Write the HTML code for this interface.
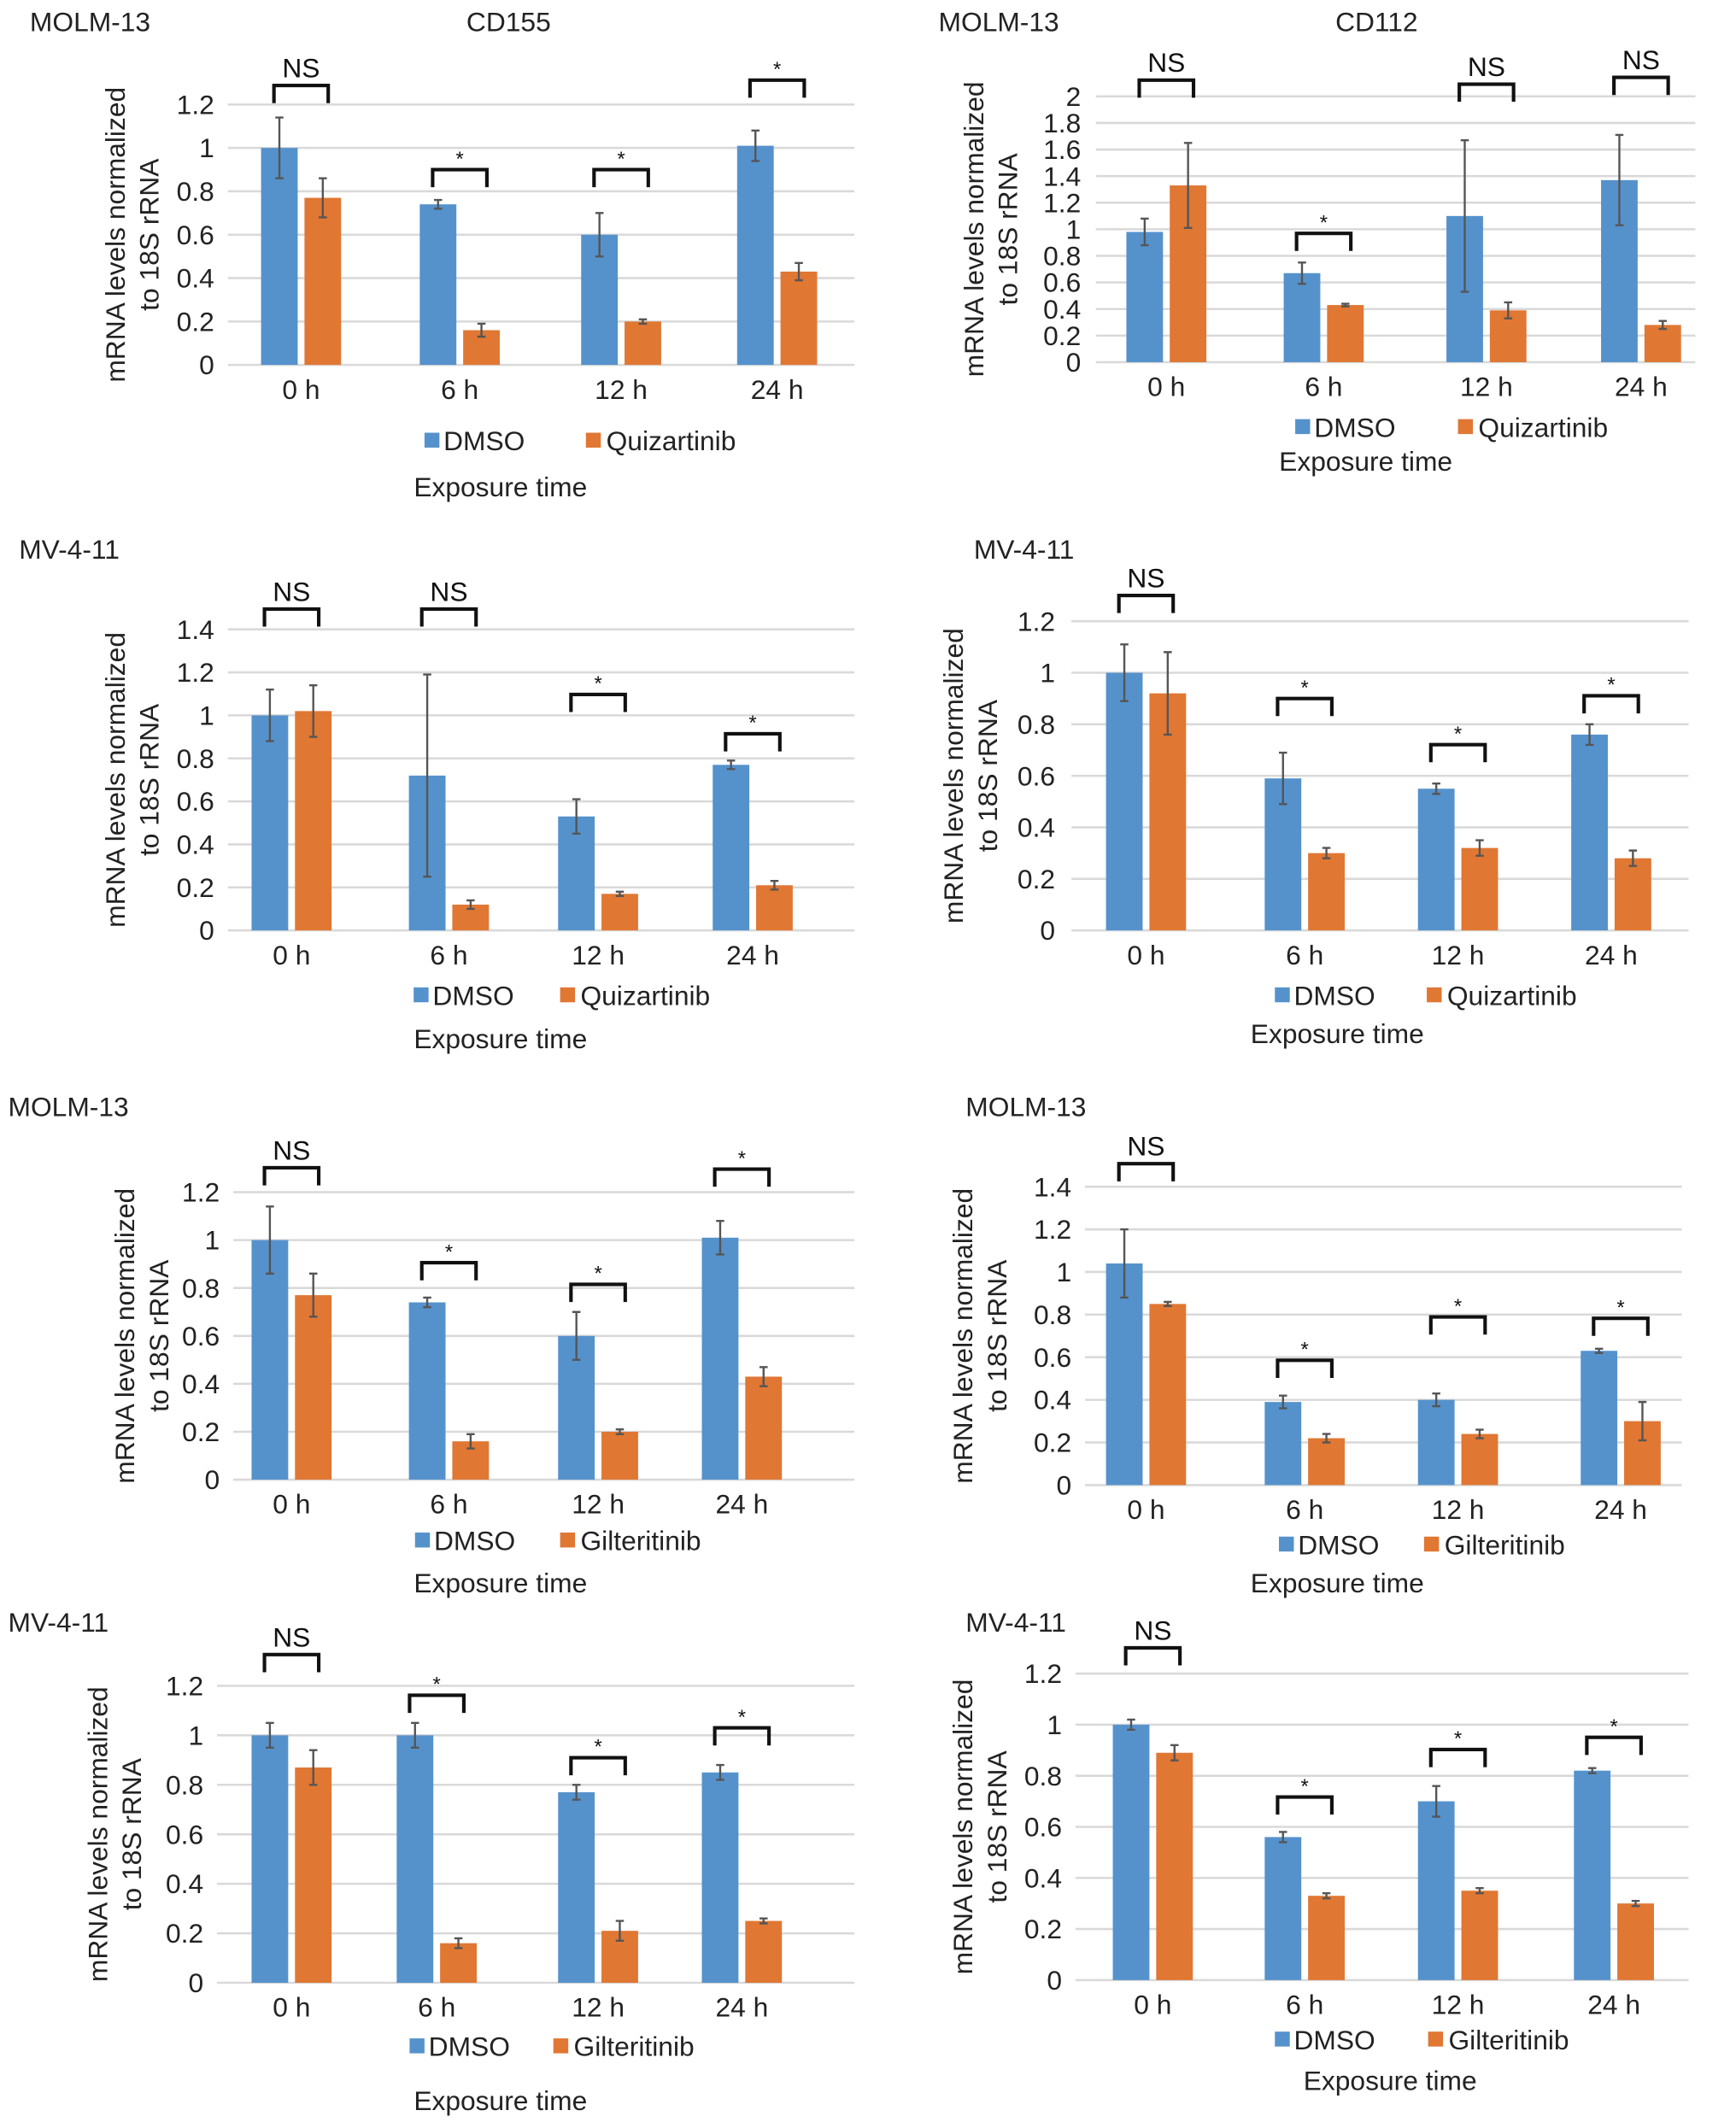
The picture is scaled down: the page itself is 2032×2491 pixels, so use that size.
<!DOCTYPE html>
<html><head><meta charset="utf-8"><style>
html,body{margin:0;padding:0;background:#fff;}
svg{display:block;font-family:"Liberation Sans",Arial,sans-serif;}
</style></head>
<body>
<svg id="fig" width="2032" height="2491" viewBox="0 0 1280 1569" xmlns="http://www.w3.org/2000/svg"></svg>
<script>
// ---- data ----
const categories = ["0 h","6 h","12 h","24 h"];
const p1Dmso=[1.0,0.74,0.60,1.01], p1Drug=[0.77,0.16,0.20,0.43], p1DmsoErr=[0.14,0.02,0.10,0.07], p1DrugErr=[0.09,0.03,0.01,0.04], p1Sig=["NS","*","*","*"];
const p2Dmso=[0.98,0.67,1.10,1.37], p2Drug=[1.33,0.43,0.39,0.28], p2DmsoErr=[0.10,0.08,0.57,0.34], p2DrugErr=[0.32,0.01,0.06,0.03], p2Sig=["NS","*","NS","NS"];
const p3Dmso=[1.0,0.72,0.53,0.77], p3Drug=[1.02,0.12,0.17,0.21], p3DmsoErr=[0.12,0.47,0.08,0.02], p3DrugErr=[0.12,0.02,0.01,0.02], p3Sig=["NS","NS","*","*"];
const p4Dmso=[1.0,0.59,0.55,0.76], p4Drug=[0.92,0.30,0.32,0.28], p4DmsoErr=[0.11,0.10,0.02,0.04], p4DrugErr=[0.16,0.02,0.03,0.03], p4Sig=["NS","*","*","*"];
const p5Dmso=[1.0,0.74,0.60,1.01], p5Drug=[0.77,0.16,0.20,0.43], p5DmsoErr=[0.14,0.02,0.10,0.07], p5DrugErr=[0.09,0.03,0.01,0.04], p5Sig=["NS","*","*","*"];
const p6Dmso=[1.04,0.39,0.40,0.63], p6Drug=[0.85,0.22,0.24,0.30], p6DmsoErr=[0.16,0.03,0.03,0.01], p6DrugErr=[0.01,0.02,0.02,0.09], p6Sig=["NS","*","*","*"];
const p7Dmso=[1.0,1.0,0.77,0.85], p7Drug=[0.87,0.16,0.21,0.25], p7DmsoErr=[0.05,0.05,0.03,0.03], p7DrugErr=[0.07,0.02,0.04,0.01], p7Sig=["NS","*","*","*"];
const p8Dmso=[1.0,0.56,0.70,0.82], p8Drug=[0.89,0.33,0.35,0.30], p8DmsoErr=[0.02,0.02,0.06,0.01], p8DrugErr=[0.03,0.01,0.01,0.01], p8Sig=["NS","*","*","*"];
const ticks12=["0","0.2","0.4","0.6","0.8","1","1.2"];
const ticks14=["0","0.2","0.4","0.6","0.8","1","1.2","1.4"];
const ticks20=["0","0.2","0.4","0.6","0.8","1","1.2","1.4","1.6","1.8","2"];

// ---- layout ----
const panels=[
 {id:1,d:p1Dmso,q:p1Drug,de:p1DmsoErr,qe:p1DrugErr,sig:p1Sig,ticks:ticks12,y0:269,ytop:77,x1:168,x2:630,tx:158,cx:[222,339,458,573],br:[63,125,125,59],yt:[85,110],drug:"Quizartinib",lg:[313,432],ly:332,ex:369,ey:366,title:"MOLM-13",tX:22,tY:23,sub:"CD155",subX:375},
 {id:2,d:p2Dmso,q:p2Drug,de:p2DmsoErr,qe:p2DrugErr,sig:p2Sig,ticks:ticks20,y0:267,ytop:71,x1:808,x2:1250,tx:797,cx:[860,976,1096,1210],br:[59,172,62,57],yt:[718,743],drug:"Quizartinib",lg:[955,1075],ly:322,ex:1007,ey:347,title:"MOLM-13",tX:692,tY:23,sub:"CD112",subX:1015},
 {id:3,d:p3Dmso,q:p3Drug,de:p3DmsoErr,qe:p3DrugErr,sig:p3Sig,ticks:ticks14,y0:686,ytop:464,x1:168,x2:630,tx:158,cx:[215,331,441,555],br:[449,449,512,541],yt:[85,110],drug:"Quizartinib",lg:[305,413],ly:741,ex:369,ey:773,title:"MV-4-11",tX:14,tY:412},
 {id:4,d:p4Dmso,q:p4Drug,de:p4DmsoErr,qe:p4DrugErr,sig:p4Sig,ticks:ticks12,y0:686,ytop:458,x1:790,x2:1245,tx:778,cx:[845,962,1075,1188],br:[439,515,549,513],yt:[703,728],drug:"Quizartinib",lg:[940,1052],ly:741,ex:986,ey:769,title:"MV-4-11",tX:718,tY:412},
 {id:5,d:p5Dmso,q:p5Drug,de:p5DmsoErr,qe:p5DrugErr,sig:p5Sig,ticks:ticks12,y0:1091,ytop:879,x1:172,x2:630,tx:162,cx:[215,331,441,547],br:[861,931,947,862],yt:[92,117],drug:"Gilteritinib",lg:[306,413],ly:1143,ex:369,ey:1174,title:"MOLM-13",tX:6,tY:823},
 {id:6,d:p6Dmso,q:p6Drug,de:p6DmsoErr,qe:p6DrugErr,sig:p6Sig,ticks:ticks14,y0:1095,ytop:875,x1:800,x2:1240,tx:790,cx:[845,962,1075,1195],br:[858,1003,971,972],yt:[710,735],drug:"Gilteritinib",lg:[943,1050],ly:1146,ex:986,ey:1174,title:"MOLM-13",tX:712,tY:823},
 {id:7,d:p7Dmso,q:p7Drug,de:p7DmsoErr,qe:p7DrugErr,sig:p7Sig,ticks:ticks12,y0:1462,ytop:1243,x1:160,x2:630,tx:150,cx:[215,322,441,547],br:[1220,1250,1296,1274],yt:[72,97],drug:"Gilteritinib",lg:[302,408],ly:1516,ex:369,ey:1556,title:"MV-4-11",tX:6,tY:1203},
 {id:8,d:p8Dmso,q:p8Drug,de:p8DmsoErr,qe:p8DrugErr,sig:p8Sig,ticks:ticks12,y0:1460,ytop:1234,x1:793,x2:1245,tx:783,cx:[850,962,1075,1190],br:[1215,1325,1290,1281],yt:[710,735],drug:"Gilteritinib",lg:[940,1053],ly:1511,ex:1025,ey:1541,title:"MV-4-11",tX:712,tY:1203}
];
const BLUE="#5592cc", ORANGE="#e07733";
const FS=20;
const svg=document.getElementById('fig');
const NS="http://www.w3.org/2000/svg";
function mk(tag,attrs,parent,text){const e=document.createElementNS(NS,tag);for(const k in attrs)e.setAttribute(k,attrs[k]);if(text!==undefined)e.textContent=text;parent.appendChild(e);return e;}

panels.forEach(p=>{
  const g=mk('g',{},svg);
  
  
  const maxV=parseFloat(p.ticks[p.ticks.length-1]);
  const yS=v=>p.y0-(v/maxV)*(p.y0-p.ytop);
  p.ticks.forEach(t=>{
    const y=yS(parseFloat(t));
    const l=mk('line',{x1:p.x1,x2:p.x2,y1:y,y2:y,stroke:"#d9d9d9","stroke-width":1.6},g);
    
    
    const tl=mk('text',{x:p.tx,y:y+7,"text-anchor":"end","font-size":FS,fill:"#222"},g,t);
    
    
  });
  const cy=(p.y0+p.ytop)/2;
  const yt1=mk('text',{x:0,y:0,transform:`translate(${p.yt[0]+7},${cy}) rotate(-90)`,"text-anchor":"middle","font-size":FS,fill:"#222"},g,"mRNA levels normalized");
  
  
  const yt2=mk('text',{x:0,y:0,transform:`translate(${p.yt[1]+7},${cy}) rotate(-90)`,"text-anchor":"middle","font-size":FS,fill:"#222"},g,"to 18S rRNA");
  
  
  categories.forEach((c,i)=>{
    const cx=p.cx[i];
    [[p.d[i],p.de[i],BLUE,-16,'bar-dmso'],[p.q[i],p.qe[i],ORANGE,16,'bar-drug']].forEach(([v,e,col,off,nm])=>{
      const bx=cx+off-13.5;
      const r=mk('rect',{x:bx,y:yS(v),width:27,height:p.y0-yS(v),fill:col},g);
      
      
      const ex=cx+off;
      const eb=mk('path',{d:`M${ex},${yS(v+e)}V${yS(Math.max(0,v-e))}M${ex-3},${yS(v+e)}H${ex+3}M${ex-3},${yS(Math.max(0,v-e))}H${ex+3}`,stroke:"#555","stroke-width":1.5,fill:"none"},g);
      
      
    });
    const xl=mk('text',{x:cx,y:p.y0+25,"text-anchor":"middle","font-size":FS,fill:"#222"},g,c);
    
    
    const by=p.br[i];
    const b=mk('path',{d:`M${cx-20},${by+13}V${by}H${cx+20}V${by+13}`,stroke:"#111","stroke-width":2.6,fill:"none"},g);
    
    
    const s=p.sig[i];
    const st=mk('text',{x:cx,y:s==="NS"?by-6:by-3,"text-anchor":"middle","font-size":s==="NS"?FS:15,fill:"#111"},g,s);
    
    
  });
  const l1=mk('rect',{x:p.lg[0],y:p.ly-13,width:11,height:11,fill:BLUE},g);
  
  
  const t1=mk('text',{x:p.lg[0]+14,y:p.ly,"font-size":FS,fill:"#222"},g,"DMSO");
  
  
  const l2=mk('rect',{x:p.lg[1],y:p.ly-13,width:11,height:11,fill:ORANGE},g);
  
  
  const t2=mk('text',{x:p.lg[1]+15,y:p.ly,"font-size":FS,fill:"#222"},g,p.drug);
  
  
  const xt=mk('text',{x:p.ex,y:p.ey,"text-anchor":"middle","font-size":FS,fill:"#222"},g,"Exposure time");
  
  
  const ti=mk('text',{x:p.tX,y:p.tY,"font-size":FS,fill:"#222"},g,p.title);
  
  
  if(p.sub){
    const su=mk('text',{x:p.subX,y:p.tY,"text-anchor":"middle","font-size":FS,fill:"#222"},g,p.sub);
    
    
  }
});
</script>
</body></html>
